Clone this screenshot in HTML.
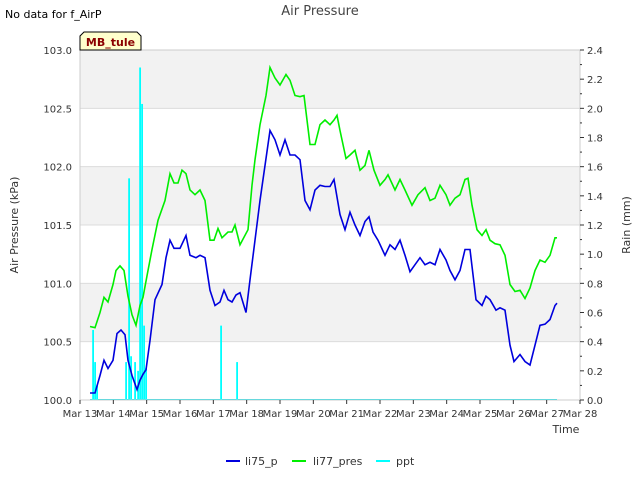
<!DOCTYPE html>
<html><head><meta charset="utf-8"><style>
body{margin:0;width:640px;height:480px;background:#fff;font-family:"Liberation Sans","DejaVu Sans",sans-serif;overflow:hidden}
svg text{font-family:"DejaVu Sans","Liberation Sans",sans-serif}
</style></head><body>
<svg id="chart" width="640" height="480" xmlns="http://www.w3.org/2000/svg">
<text x="5" y="18" font-size="11" fill="#000">No data for f_AirP</text>
<text x="320" y="15" font-size="13" fill="#444" text-anchor="middle">Air Pressure</text>
<g id="bands"></g>
<g id="grid"></g>
<g id="rain"></g>
<path id="g77" fill="none" stroke="#00ee00" stroke-width="1.6"/>
<path id="b75" fill="none" stroke="#0000dd" stroke-width="1.6"/>
<rect x="80" y="50" width="500" height="350" fill="none" stroke="#ccc"/>
<g id="axes"></g>
<g>
<path d="M80,50 L80,36 L84,32 L137,32 L141,36 L141,50 Z" fill="#ffffcc" stroke="#000"/>
<text x="110.5" y="46" font-size="11" font-weight="bold" fill="#8b0000" text-anchor="middle">MB_tule</text></g>
<text x="566" y="433" font-size="11" fill="#333" text-anchor="middle">Time</text>
<text transform="translate(18,225) rotate(-90)" font-size="11" fill="#333" text-anchor="middle">Air Pressure (kPa)</text>
<text transform="translate(630,225) rotate(-90)" font-size="11" fill="#333" text-anchor="middle">Rain (mm)</text>
<g>
<g><line x1="226" y1="461" x2="240" y2="461" stroke="#0000dd" stroke-width="2"/><text x="245" y="465" font-size="11" fill="#333">li75_p</text></g>
<g><line x1="292" y1="461" x2="306" y2="461" stroke="#00ee00" stroke-width="2"/><text x="313" y="465" font-size="11" fill="#333">li77_pres</text></g>
<g><line x1="376" y1="461" x2="390" y2="461" stroke="#00ffff" stroke-width="2"/><text x="396" y="465" font-size="11" fill="#333">ppt</text></g>
</g>
</svg>
<script>
const xTickLabels=["Mar 13","Mar 14","Mar 15","Mar 16","Mar 17","Mar 18","Mar 19","Mar 20","Mar 21","Mar 22","Mar 23","Mar 24","Mar 25","Mar 26","Mar 27","Mar 28"];
const yTicks=[100.0,100.5,101.0,101.5,102.0,102.5,103.0];
const y2Ticks=[0.0,0.2,0.4,0.6,0.8,1.0,1.2,1.4,1.6,1.8,2.0,2.2,2.4];
const t77=[0.30,0.45,0.60,0.72,0.84,0.99,1.08,1.20,1.32,1.44,1.56,1.68,1.80,1.89,2.04,2.16,2.34,2.55,2.70,2.82,2.94,3.06,3.18,3.30,3.45,3.60,3.75,3.90,4.02,4.14,4.26,4.44,4.56,4.65,4.80,5.04,5.16,5.25,5.40,5.58,5.70,5.85,6.00,6.18,6.30,6.45,6.60,6.72,6.90,7.05,7.20,7.35,7.50,7.62,7.71,7.80,7.98,8.10,8.25,8.40,8.55,8.67,8.82,9.00,9.15,9.24,9.45,9.60,9.75,9.96,10.14,10.35,10.50,10.65,10.80,10.98,11.10,11.25,11.40,11.55,11.64,11.76,11.91,12.06,12.18,12.30,12.45,12.60,12.75,12.90,13.05,13.20,13.35,13.50,13.65,13.80,13.95,14.10,14.25,14.31];
const v77=[100.63,100.62,100.75,100.88,100.84,100.99,101.11,101.15,101.11,100.89,100.73,100.64,100.81,100.88,101.11,101.29,101.54,101.71,101.94,101.86,101.86,101.97,101.94,101.80,101.76,101.80,101.71,101.37,101.37,101.47,101.39,101.44,101.44,101.50,101.33,101.46,101.84,102.06,102.36,102.61,102.85,102.76,102.70,102.79,102.74,102.61,102.60,102.61,102.19,102.19,102.36,102.40,102.36,102.40,102.44,102.31,102.07,102.10,102.14,101.97,102.01,102.14,101.97,101.84,101.89,101.93,101.80,101.89,101.80,101.67,101.76,101.82,101.71,101.73,101.84,101.76,101.67,101.73,101.76,101.89,101.90,101.67,101.46,101.41,101.46,101.37,101.34,101.33,101.24,100.99,100.93,100.94,100.87,100.96,101.11,101.20,101.18,101.24,101.39,101.39];
const t75=[0.30,0.45,0.60,0.72,0.84,0.99,1.11,1.23,1.35,1.44,1.56,1.71,1.80,1.89,1.98,2.10,2.25,2.46,2.58,2.70,2.82,3.00,3.18,3.30,3.48,3.60,3.75,3.90,4.05,4.20,4.32,4.44,4.56,4.68,4.80,4.98,5.10,5.25,5.40,5.55,5.70,5.85,6.00,6.15,6.30,6.45,6.60,6.75,6.90,7.05,7.20,7.35,7.50,7.62,7.80,7.95,8.10,8.25,8.40,8.55,8.67,8.79,8.94,9.15,9.30,9.45,9.60,9.75,9.90,10.05,10.20,10.35,10.50,10.65,10.80,10.98,11.10,11.25,11.40,11.55,11.70,11.88,12.06,12.18,12.30,12.48,12.60,12.75,12.90,13.02,13.20,13.35,13.50,13.65,13.80,13.95,14.10,14.25,14.31];
const v75=[100.06,100.06,100.21,100.34,100.27,100.34,100.57,100.60,100.56,100.34,100.21,100.09,100.17,100.22,100.26,100.51,100.86,100.99,101.22,101.37,101.30,101.30,101.41,101.24,101.22,101.24,101.22,100.94,100.81,100.84,100.94,100.86,100.84,100.90,100.92,100.75,101.03,101.37,101.71,102.01,102.31,102.23,102.10,102.23,102.10,102.10,102.06,101.71,101.63,101.80,101.84,101.83,101.83,101.89,101.59,101.46,101.61,101.50,101.41,101.53,101.57,101.44,101.37,101.24,101.33,101.29,101.37,101.24,101.10,101.16,101.22,101.16,101.18,101.16,101.29,101.20,101.11,101.03,101.11,101.29,101.29,100.86,100.81,100.89,100.86,100.77,100.79,100.77,100.47,100.33,100.39,100.33,100.30,100.47,100.64,100.65,100.69,100.81,100.83];
const tRain=[0.39,0.45,0.51,1.38,1.47,1.53,1.65,1.74,1.80,1.86,1.92,1.98,4.23,4.71];
const vRain=[0.48,0.26,0.10,0.26,1.52,0.30,0.26,0.20,2.28,2.03,0.51,0.22,0.51,0.26];
const rainSpan=[0.30,14.31];

const X0=80,X1=580,Y0=400,Y1=50;
const xs=d=>X0+(X1-X0)*d/15;
const ys=v=>Y0-(Y0-Y1)*(v-100)/3;
const ys2=v=>Y0-(Y0-Y1)*v/2.4;
const NS="http://www.w3.org/2000/svg";
function mk(tag,attrs,parent){const e=document.createElementNS(NS,tag);for(const k in attrs)e.setAttribute(k,attrs[k]);parent.appendChild(e);return e;}
const bands=document.getElementById('bands'),grid=document.getElementById('grid'),axes=document.getElementById('axes'),rain=document.getElementById('rain');
mk('rect',{x:X0,y:Y1,width:X1-X0,height:Y0-Y1,fill:'#fff'},bands);
for(let i=0;i<yTicks.length-1;i++){
  if(i%2===1){const r=mk('rect',{x:X0,y:ys(yTicks[i+1]),width:X1-X0,height:ys(yTicks[i])-ys(yTicks[i+1]),fill:'#f2f2f2'},bands);
  
  }
}
yTicks.forEach(v=>{
  const l=mk('line',{x1:X0,x2:X1,y1:ys(v),y2:ys(v),stroke:'#dcdcdc'},grid);
  
  
  const t=mk('text',{x:X0-8,y:ys(v)+4,'font-size':10,fill:'#333','text-anchor':'end'},axes);
  
  
  t.textContent=v.toFixed(1);
});
xTickLabels.forEach((s,i)=>{
  mk('line',{x1:xs(i),x2:xs(i),y1:Y0,y2:Y0+4,stroke:'#333'},axes);
  const t=mk('text',{x:xs(i),y:Y0+17,'font-size':10,fill:'#333','text-anchor':'middle'},axes);
  
  
  t.textContent=s;
});
y2Ticks.forEach(v=>{
  mk('line',{x1:X1,x2:X1+4,y1:ys2(v),y2:ys2(v),stroke:'#333'},axes);
  if(v<2.4)mk('line',{x1:X1,x2:X1+2,y1:ys2(v+0.1),y2:ys2(v+0.1),stroke:'#333'},axes);
  const t=mk('text',{x:X1+7,y:ys2(v)+4,'font-size':10,fill:'#333'},axes);
  
  
  t.textContent=v.toFixed(1);
});
const base=mk('line',{x1:xs(rainSpan[0]),x2:xs(rainSpan[1]),y1:ys2(0)-0.5,y2:ys2(0)-0.5,stroke:'#00e5ee','stroke-width':1},rain);


tRain.forEach((t,i)=>{
  const r=mk('rect',{x:xs(t)-0.8,y:ys2(vRain[i]),width:1.8,height:ys2(0)-ys2(vRain[i]),fill:'#00ffff'},rain);
  
  
});
function path(t,v){return t.map((d,i)=>(i?'L':'M')+xs(d).toFixed(1)+','+ys(v[i]).toFixed(1)).join('');}
document.getElementById('g77').setAttribute('d',path(t77,v77));
document.getElementById('b75').setAttribute('d',path(t75,v75));
</script>
</body></html>
